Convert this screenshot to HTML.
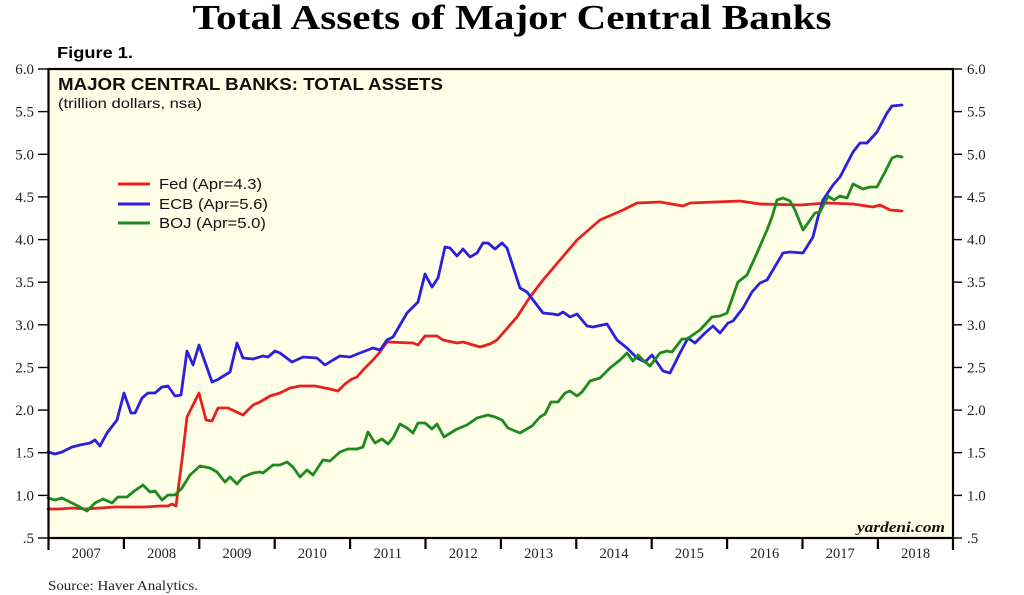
<!DOCTYPE html>
<html><head><meta charset="utf-8"><style>
html,body{margin:0;padding:0;background:#fff;width:1024px;height:595px;overflow:hidden}
svg{display:block}
</style></head><body>
<svg width="1024" height="595" viewBox="0 0 1024 595" xmlns="http://www.w3.org/2000/svg">
<rect width="1024" height="595" fill="#fff"/>
<text x="512" y="29" text-anchor="middle" font-family="Liberation Serif, serif" font-weight="bold" font-size="35" textLength="639" lengthAdjust="spacingAndGlyphs" fill="#000">Total Assets of Major Central Banks</text>
<text x="57" y="58" font-family="Liberation Sans, sans-serif" font-weight="bold" font-size="15.5" textLength="76" lengthAdjust="spacingAndGlyphs" fill="#000">Figure 1.</text>
<rect x="48.5" y="69" width="904.5" height="469" fill="#fffee6"/>
<text x="58" y="90" font-family="Liberation Sans, sans-serif" font-weight="bold" font-size="17.5" textLength="385" lengthAdjust="spacingAndGlyphs" fill="#111">MAJOR CENTRAL BANKS: TOTAL ASSETS</text>
<text x="58" y="108" font-family="Liberation Sans, sans-serif" font-size="14" textLength="144" lengthAdjust="spacingAndGlyphs" fill="#111">(trillion dollars, nsa)</text>
<g stroke-width="3" fill="none">
<line x1="118" y1="184" x2="150" y2="184" stroke="#e8201f"/>
<line x1="118" y1="204" x2="150" y2="204" stroke="#2b1fe0"/>
<line x1="118" y1="223" x2="150" y2="223" stroke="#1e8a1e"/>
</g>
<g font-family="Liberation Sans, sans-serif" font-size="15" fill="#111">
<text x="159" y="189" textLength="103" lengthAdjust="spacingAndGlyphs">Fed (Apr=4.3)</text>
<text x="159" y="209" textLength="109" lengthAdjust="spacingAndGlyphs">ECB (Apr=5.6)</text>
<text x="159" y="228" textLength="107" lengthAdjust="spacingAndGlyphs">BOJ (Apr=5.0)</text>
</g>
<g fill="none" stroke-width="2.8" stroke-linejoin="round" stroke-linecap="round">
<polyline stroke="#e8201f" points="48,509 60,509 72,508 85,509 100,508 115,507 130,507 145,507 160,506 168,506 172,504 176,506 182,460 187,417 199,393 206,420 212,421 218,408 228,408 243,415 253,405 260,402 270,396 280,393 290,388 300,386 315,386 330,389 338,391 345,384 352,379 357,377 363,370 373,360 380,352 387,342 413,343 418,345 425,336 437,336 443,340 457,343 463,342 480,347 490,344 497,340 503,333 517,317 530,297 543,280 560,260 577,240 600,220 623,210 637,203 660,202 683,206 690,203 740,201 760,204 800,205 827,203 853,204 873,207 880,205 890,210 902,211"/>
<polyline stroke="#2b1fe0" points="48,452 55,454 62,452 72,447 80,445 90,443 95,440 100,446 107,433 117,420 124,393 131,413 135,413 142,398 148,393 155,393 162,387 168,386 175,396 181,395 187,351 193,365 199,345 212,382 217,380 230,372 237,343 243,358 253,359 263,356 268,357 275,351 280,353 292,362 303,357 317,358 325,365 333,360 340,356 350,357 360,353 373,348 380,350 387,340 393,337 407,313 418,302 425,274 432,287 438,278 445,247 450,248 457,256 463,249 470,257 477,253 483,243 488,243 495,249 502,243 507,248 520,288 527,292 543,313 553,314 558,315 563,312 570,317 577,314 587,326 593,327 607,324 617,340 627,348 637,358 645,362 652,355 663,371 670,373 680,353 688,338 695,343 705,333 713,326 720,333 728,323 733,321 743,308 752,292 760,283 767,280 783,253 790,252 803,253 813,237 818,217 823,200 833,185 840,177 853,152 860,143 867,143 877,132 887,113 892,106 902,105"/>
<polyline stroke="#1e8a1e" points="48,498 55,500 62,498 70,502 78,506 87,511 95,503 103,499 112,503 118,497 127,497 133,492 143,485 150,492 155,491 162,500 168,495 175,495 182,488 190,475 200,466 210,468 217,472 225,482 230,477 237,484 243,477 253,473 260,472 263,473 273,465 280,465 287,462 293,467 300,477 307,470 313,475 323,460 330,461 340,452 348,449 357,449 363,447 368,432 375,443 382,439 388,444 393,438 400,424 407,428 413,433 418,423 425,423 432,429 437,424 444,437 457,429 467,425 477,418 488,415 495,417 502,420 508,428 520,433 532,426 540,417 545,414 551,402 558,402 565,393 570,391 577,396 582,392 590,381 600,378 610,368 620,360 627,353 633,361 638,355 643,360 650,366 660,353 667,351 672,352 682,339 687,339 700,330 712,317 720,316 727,313 738,282 747,275 757,253 767,230 772,217 777,200 783,198 790,201 795,210 803,230 808,223 815,213 820,212 828,196 834,200 840,196 847,198 853,184 863,189 870,187 877,187 885,172 892,158 897,156 902,157"/>
</g>
<text x="945" y="532" text-anchor="end" font-family="Liberation Serif, serif" font-weight="bold" font-style="italic" font-size="15" textLength="88" lengthAdjust="spacingAndGlyphs" fill="#111">yardeni.com</text>
<rect x="48.5" y="69" width="904.5" height="469" fill="none" stroke="#000" stroke-width="2.2"/>
<g stroke="#000" stroke-width="1.4">
<line x1="38" y1="69" x2="48" y2="69"/><line x1="953" y1="69" x2="962" y2="69"/>
<line x1="38" y1="111.6" x2="48" y2="111.6"/><line x1="953" y1="111.6" x2="962" y2="111.6"/>
<line x1="38" y1="154.3" x2="48" y2="154.3"/><line x1="953" y1="154.3" x2="962" y2="154.3"/>
<line x1="38" y1="196.9" x2="48" y2="196.9"/><line x1="953" y1="196.9" x2="962" y2="196.9"/>
<line x1="38" y1="239.6" x2="48" y2="239.6"/><line x1="953" y1="239.6" x2="962" y2="239.6"/>
<line x1="38" y1="282.2" x2="48" y2="282.2"/><line x1="953" y1="282.2" x2="962" y2="282.2"/>
<line x1="38" y1="324.8" x2="48" y2="324.8"/><line x1="953" y1="324.8" x2="962" y2="324.8"/>
<line x1="38" y1="367.5" x2="48" y2="367.5"/><line x1="953" y1="367.5" x2="962" y2="367.5"/>
<line x1="38" y1="410.1" x2="48" y2="410.1"/><line x1="953" y1="410.1" x2="962" y2="410.1"/>
<line x1="38" y1="452.7" x2="48" y2="452.7"/><line x1="953" y1="452.7" x2="962" y2="452.7"/>
<line x1="38" y1="495.4" x2="48" y2="495.4"/><line x1="953" y1="495.4" x2="962" y2="495.4"/>
<line x1="38" y1="538" x2="48" y2="538"/><line x1="953" y1="538" x2="962" y2="538"/>
</g>
<g stroke="#000" stroke-width="2.2">
<line x1="48.5" y1="538" x2="48.5" y2="550"/>
<line x1="123.9" y1="538" x2="123.9" y2="549"/>
<line x1="199.3" y1="538" x2="199.3" y2="549"/>
<line x1="274.7" y1="538" x2="274.7" y2="549"/>
<line x1="350.1" y1="538" x2="350.1" y2="549"/>
<line x1="425.5" y1="538" x2="425.5" y2="549"/>
<line x1="500.9" y1="538" x2="500.9" y2="549"/>
<line x1="576.3" y1="538" x2="576.3" y2="549"/>
<line x1="651.7" y1="538" x2="651.7" y2="549"/>
<line x1="727.1" y1="538" x2="727.1" y2="549"/>
<line x1="802.5" y1="538" x2="802.5" y2="549"/>
<line x1="877.9" y1="538" x2="877.9" y2="549"/>
<line x1="953" y1="538" x2="953" y2="550"/>
</g>
<g font-family="Liberation Serif, serif" font-size="15" fill="#222" text-anchor="end">
<text x="34" y="74">6.0</text><text x="34" y="116.6">5.5</text><text x="34" y="159.3">5.0</text>
<text x="34" y="201.9">4.5</text><text x="34" y="244.6">4.0</text><text x="34" y="287.2">3.5</text>
<text x="34" y="329.8">3.0</text><text x="34" y="372.5">2.5</text><text x="34" y="415.1">2.0</text>
<text x="34" y="457.7">1.5</text><text x="34" y="500.4">1.0</text><text x="34" y="543">.5</text>
</g>
<g font-family="Liberation Serif, serif" font-size="15" fill="#222">
<text x="967" y="74">6.0</text><text x="967" y="116.6">5.5</text><text x="967" y="159.3">5.0</text>
<text x="967" y="201.9">4.5</text><text x="967" y="244.6">4.0</text><text x="967" y="287.2">3.5</text>
<text x="967" y="329.8">3.0</text><text x="967" y="372.5">2.5</text><text x="967" y="415.1">2.0</text>
<text x="967" y="457.7">1.5</text><text x="967" y="500.4">1.0</text><text x="967" y="543">.5</text>
</g>
<g font-family="Liberation Serif, serif" font-size="14.5" fill="#222" text-anchor="middle">
<text x="86.2" y="558">2007</text><text x="161.6" y="558">2008</text><text x="237" y="558">2009</text>
<text x="312.4" y="558">2010</text><text x="387.8" y="558">2011</text><text x="463.2" y="558">2012</text>
<text x="538.6" y="558">2013</text><text x="614" y="558">2014</text><text x="689.4" y="558">2015</text>
<text x="764.8" y="558">2016</text><text x="840.2" y="558">2017</text><text x="915.6" y="558">2018</text>
</g>
<text x="48" y="590" font-family="Liberation Serif, serif" font-size="13.5" fill="#222" textLength="150" lengthAdjust="spacingAndGlyphs">Source: Haver Analytics.</text>
</svg>
</body></html>
